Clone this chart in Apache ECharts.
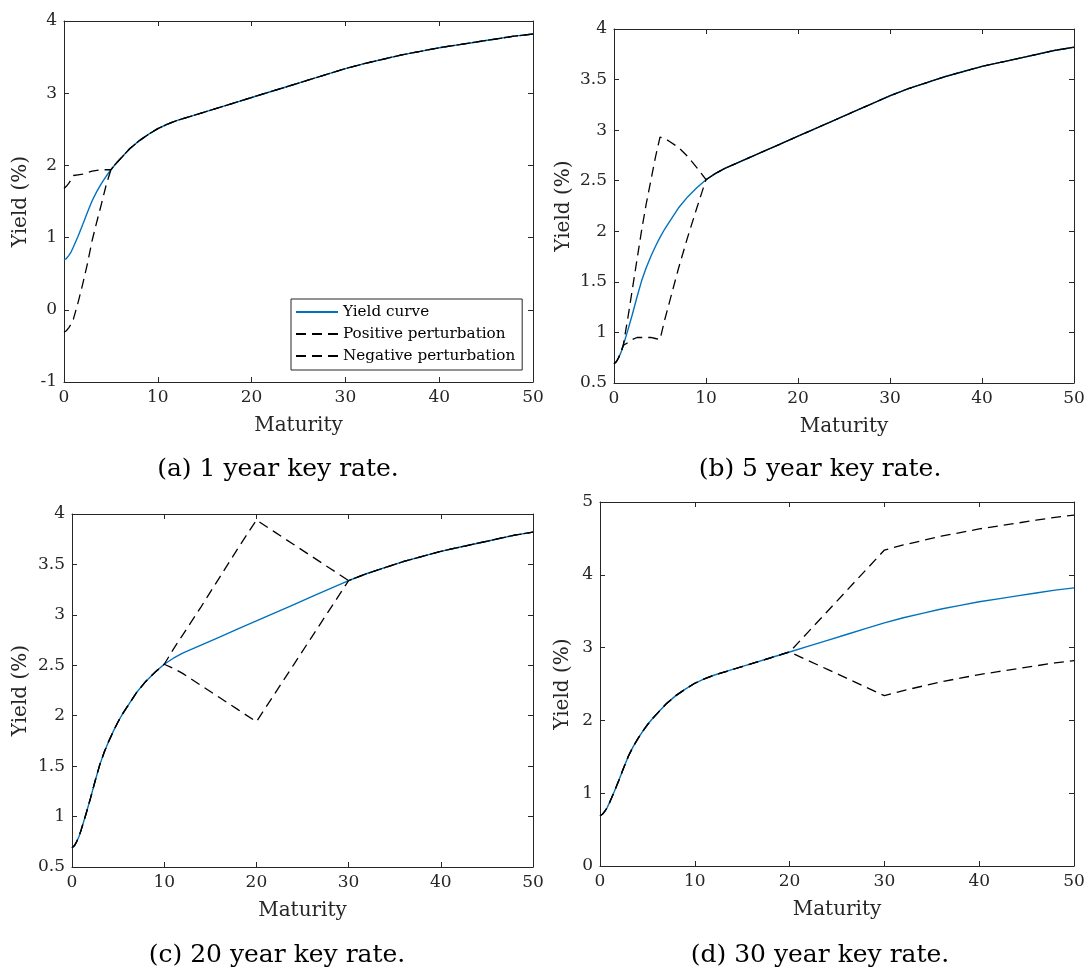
<!DOCTYPE html>
<html>
<head>
<meta charset="utf-8">
<script src="https://cdn.jsdelivr.net/npm/echarts@6/dist/echarts.min.js"></script>
<style>
html,body{margin:0;padding:0;background:#fff;}
#chart{width:1088px;height:972px;}
</style>
</head>
<body>
<div id="chart"></div>
<script>
// ---- data ----
const maturity = [0, 0.25, 0.5, 0.75, 1, 1.5, 2, 2.5, 3, 3.5, 4, 4.5, 5, 5.5, 6, 7, 8, 9, 10, 11, 12, 14, 16, 18, 20, 22, 24, 26, 28, 30, 32, 34, 36, 38, 40, 42, 44, 46, 48, 50];

const yieldCurve = [0.69, 0.71, 0.75, 0.80, 0.87, 1.02, 1.18, 1.35, 1.51, 1.64, 1.75, 1.85, 1.94, 2.02, 2.09, 2.23, 2.34, 2.43, 2.51, 2.57, 2.62, 2.70, 2.78, 2.86, 2.94, 3.02, 3.10, 3.18, 3.26, 3.34, 3.41, 3.47, 3.53, 3.58, 3.63, 3.67, 3.71, 3.75, 3.79, 3.82];

// (a) 1 year key rate
const pos1 = [1.68, 1.71, 1.75, 1.80, 1.86, 1.87, 1.88, 1.90, 1.92, 1.93, 1.94, 1.94, 1.94, 2.02, 2.09, 2.23, 2.34, 2.43, 2.51, 2.57, 2.62, 2.70, 2.78, 2.86, 2.94, 3.02, 3.10, 3.18, 3.26, 3.34, 3.41, 3.47, 3.53, 3.58, 3.63, 3.67, 3.71, 3.75, 3.79, 3.82];
const neg1 = [-0.31, -0.29, -0.25, -0.20, -0.13, 0.10, 0.36, 0.64, 0.96, 1.22, 1.47, 1.73, 1.94, 2.02, 2.09, 2.23, 2.34, 2.43, 2.51, 2.57, 2.62, 2.70, 2.78, 2.86, 2.94, 3.02, 3.10, 3.18, 3.26, 3.34, 3.41, 3.47, 3.53, 3.58, 3.63, 3.67, 3.71, 3.75, 3.79, 3.82];

// (b) 5 year key rate
const pos5 = [0.69, 0.71, 0.75, 0.80, 0.87, 1.14, 1.43, 1.72, 2.01, 2.27, 2.50, 2.73, 2.93, 2.92, 2.89, 2.83, 2.74, 2.63, 2.51, 2.57, 2.62, 2.70, 2.78, 2.86, 2.94, 3.02, 3.10, 3.18, 3.26, 3.34, 3.41, 3.47, 3.53, 3.58, 3.63, 3.67, 3.71, 3.75, 3.79, 3.82];
const neg5 = [0.69, 0.71, 0.75, 0.80, 0.87, 0.90, 0.93, 0.95, 0.95, 0.95, 0.95, 0.94, 0.93, 1.12, 1.29, 1.63, 1.94, 2.23, 2.51, 2.57, 2.62, 2.70, 2.78, 2.86, 2.94, 3.02, 3.10, 3.18, 3.26, 3.34, 3.41, 3.47, 3.53, 3.58, 3.63, 3.67, 3.71, 3.75, 3.79, 3.82];

// (c) 20 year key rate
const pos20 = [0.69, 0.71, 0.75, 0.80, 0.87, 1.02, 1.18, 1.35, 1.51, 1.64, 1.75, 1.85, 1.94, 2.02, 2.09, 2.23, 2.34, 2.43, 2.51, 2.66, 2.80, 3.08, 3.37, 3.66, 3.94, 3.82, 3.70, 3.58, 3.46, 3.34, 3.41, 3.47, 3.53, 3.58, 3.63, 3.67, 3.71, 3.75, 3.79, 3.82];
const neg20 = [0.69, 0.71, 0.75, 0.80, 0.87, 1.02, 1.18, 1.35, 1.51, 1.64, 1.75, 1.85, 1.94, 2.02, 2.09, 2.23, 2.34, 2.43, 2.51, 2.47, 2.42, 2.30, 2.18, 2.06, 1.94, 2.22, 2.50, 2.78, 3.06, 3.34, 3.41, 3.47, 3.53, 3.58, 3.63, 3.67, 3.71, 3.75, 3.79, 3.82];

// (d) 30 year key rate
const pos30 = [0.69, 0.71, 0.75, 0.80, 0.87, 1.02, 1.18, 1.35, 1.51, 1.64, 1.75, 1.85, 1.94, 2.02, 2.09, 2.23, 2.34, 2.43, 2.51, 2.57, 2.62, 2.70, 2.78, 2.86, 2.94, 3.22, 3.50, 3.78, 4.06, 4.34, 4.41, 4.47, 4.53, 4.58, 4.63, 4.67, 4.71, 4.75, 4.79, 4.82];
const neg30 = [0.69, 0.71, 0.75, 0.80, 0.87, 1.02, 1.18, 1.35, 1.51, 1.64, 1.75, 1.85, 1.94, 2.02, 2.09, 2.23, 2.34, 2.43, 2.51, 2.57, 2.62, 2.70, 2.78, 2.86, 2.94, 2.82, 2.70, 2.58, 2.46, 2.34, 2.41, 2.47, 2.53, 2.58, 2.63, 2.67, 2.71, 2.75, 2.79, 2.82];

const captions = ['(a) 1 year key rate.', '(b) 5 year key rate.', '(c) 20 year key rate.', '(d) 30 year key rate.'];
const seriesNames = ['Yield curve', 'Positive perturbation', 'Negative perturbation'];
const xTickValues = [0, 10, 20, 30, 40, 50];
const yMin = [-1, 0.5, 0.5, 0];
const yMax = [4, 4, 4, 5];
const yStep = [1, 0.5, 0.5, 1];
const xLabel = 'Maturity';
const yLabel = 'Yield (%)';

// ---- layout ----
const grids = [
  {left: 64, top: 21, width: 469, height: 361},
  {left: 614, top: 29, width: 460, height: 354},
  {left: 72, top: 514, width: 461, height: 353},
  {left: 600, top: 502, width: 474, height: 364}
];
const yNameGap = [33, 40, 41, 27];
const captionPos = [[278, 469], [820, 469], [277, 955], [820, 955]];
const perturb = [[pos1, neg1], [pos5, neg5], [pos20, neg20], [pos30, neg30]];

const FONT = 'DejaVu Serif';
const AX = '#262626';
const BLUE = '#0072BD';
const DASH = [10, 6];

const pairs = arr => maturity.map((m, i) => [m, arr[i]]);

const xAxes = [], yAxes = [], series = [], graphics = [];
grids.forEach((g, i) => {
  const tickCommon = {show: true, inside: true, length: 5, lineStyle: {color: AX, width: 1}};
  const lineCommon = {show: true, onZero: false, lineStyle: {color: AX, width: 1}};
  xAxes.push({
    type: 'value', gridIndex: i, min: xTickValues[0], max: xTickValues[xTickValues.length - 1],
    interval: xTickValues[1] - xTickValues[0], position: 'bottom',
    axisLine: lineCommon, axisTick: tickCommon, splitLine: {show: false},
    axisLabel: {color: AX, fontFamily: FONT, fontSize: 17, margin: 7},
    name: xLabel, nameLocation: 'middle', nameGap: 34,
    nameTextStyle: {color: AX, fontFamily: FONT, fontSize: 20}
  });
  xAxes.push({
    type: 'value', gridIndex: i, min: xTickValues[0], max: xTickValues[xTickValues.length - 1],
    interval: xTickValues[1] - xTickValues[0], position: 'top',
    axisLine: lineCommon, axisTick: tickCommon, splitLine: {show: false}, axisLabel: {show: false}
  });
  yAxes.push({
    type: 'value', gridIndex: i, min: yMin[i], max: yMax[i], interval: yStep[i], position: 'left',
    axisLine: lineCommon, axisTick: tickCommon, splitLine: {show: false},
    axisLabel: {color: AX, fontFamily: FONT, fontSize: 17, margin: 7},
    name: yLabel, nameLocation: 'middle', nameGap: yNameGap[i],
    nameTextStyle: {color: AX, fontFamily: FONT, fontSize: 20}
  });
  yAxes.push({
    type: 'value', gridIndex: i, min: yMin[i], max: yMax[i], interval: yStep[i], position: 'right',
    axisLine: lineCommon, axisTick: tickCommon, splitLine: {show: false}, axisLabel: {show: false}
  });
  series.push({
    name: seriesNames[0], type: 'line', xAxisIndex: 2 * i, yAxisIndex: 2 * i,
    data: pairs(yieldCurve), symbol: 'none', lineStyle: {color: BLUE, width: 1.4}, itemStyle: {color: BLUE},
    animation: false, z: 2
  });
  series.push({
    name: seriesNames[1], type: 'line', xAxisIndex: 2 * i, yAxisIndex: 2 * i,
    data: pairs(perturb[i][0]), symbol: 'none', lineStyle: {color: '#000', width: 1.3, type: DASH}, itemStyle: {color: '#000'},
    animation: false, z: 3
  });
  series.push({
    name: seriesNames[2], type: 'line', xAxisIndex: 2 * i, yAxisIndex: 2 * i,
    data: pairs(perturb[i][1]), symbol: 'none', lineStyle: {color: '#000', width: 1.3, type: DASH}, itemStyle: {color: '#000'},
    animation: false, z: 3
  });
  graphics.push({
    type: 'text', x: captionPos[i][0], y: captionPos[i][1],
    style: {text: captions[i], fill: '#000', font: '25px "' + FONT + '"', align: 'center', verticalAlign: 'middle'}
  });
});

const chart = echarts.init(document.getElementById('chart'), null, {renderer: 'canvas'});
chart.setOption({
  animation: false,
  backgroundColor: '#fff',
  grid: grids.map(g => Object.assign({containLabel: false}, g)),
  xAxis: xAxes,
  yAxis: yAxes,
  series: series,
  legend: {
    orient: 'vertical', left: 291, top: 299, selectedMode: false,
    data: seriesNames, itemWidth: 42, itemHeight: 14, itemGap: 6,
    padding: [5, 7, 6, 4], borderColor: AX, borderWidth: 1, backgroundColor: '#fff',
    itemStyle: {opacity: 0},
    textStyle: {fontFamily: FONT, fontSize: 15.2, lineHeight: 16, color: '#000'}
  },
  graphic: graphics
});
</script>
</body>
</html>
